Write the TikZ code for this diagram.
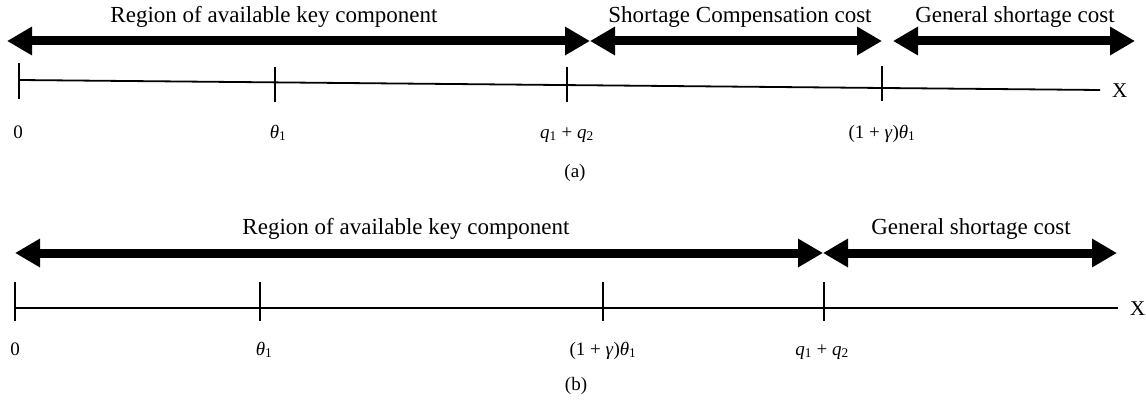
\documentclass[tikz,border=0pt]{standalone}
\usepackage{fontspec}
\setmainfont{Liberation Serif}
\usetikzlibrary{arrows.meta}

\begin{document}
\begin{tikzpicture}[x=1pt,y=-1pt,
  band/.style={line width=9pt,
    {Triangle[length=25pt,width=27pt]}-{Triangle[length=25pt,width=27pt]}},
  axisline/.style={line width=1.8pt},
  tickmark/.style={line width=1.8pt},
  title/.style={font=\fontsize{23}{26}\selectfont, inner sep=0pt, anchor=base},
  lbl/.style={font=\fontsize{19}{22}\selectfont, inner sep=0pt, anchor=base},
  axname/.style={font=\fontsize{21}{24}\selectfont, inner sep=0pt, anchor=base west},
]
\useasboundingbox (0,0) rectangle (1146,404);

% ---------- (a) ----------
\node[title] (ta1) at (274,23) {Region of available key component};
\node[title] (ta2) at (740,23) {Shortage Compensation cost};
\node[title] (ta3) at (1015,23) {General shortage cost};

\coordinate (a0) at (7,41);
\coordinate (a1) at (590,41);
\coordinate (a2) at (882,41);
\coordinate (a3) at (893,41);
\coordinate (a4) at (1135,41);
\draw[band] (a0) -- (a1);
\draw[band] (a1) -- (a2);
\draw[band] (a3) -- (a4);

\coordinate (xa0) at (19,80);
\coordinate (xa1) at (1100,90);
\draw[axisline] (xa0) -- (xa1);
\node[axname] (Xa) at (1112,97) {X};

\coordinate (ka0t) at (19,63);  \coordinate (ka0b) at (19,99);
\coordinate (ka1t) at (275,67); \coordinate (ka1b) at (275,102);
\coordinate (ka2t) at (567,67); \coordinate (ka2b) at (567,102);
\coordinate (ka3t) at (882,66); \coordinate (ka3b) at (882,101);
\draw[tickmark] (ka0t) -- (ka0b);
\draw[tickmark] (ka1t) -- (ka1b);
\draw[tickmark] (ka2t) -- (ka2b);
\draw[tickmark] (ka3t) -- (ka3b);

\node[lbl] (la0) at (18,138) {0};
\node[lbl] (la1) at (278,138) {\textit{θ}\textsubscript{1}};
\node[lbl] (la2) at (567,138) {\textit{q}\textsubscript{1} + \textit{q}\textsubscript{2}};
\node[lbl] (la3) at (882,138) {(1 + \textit{γ})\textit{θ}\textsubscript{1}};
\node[lbl] (capa) at (575,177) {(a)};

% ---------- (b) ----------
\node[title] (tb1) at (406,234) {Region of available key component};
\node[title] (tb2) at (971,234) {General shortage cost};

\coordinate (b0) at (15,253);
\coordinate (b1) at (823,253);
\coordinate (b2) at (1117,253);
\draw[band] (b0) -- (b1);
\draw[band] (b1) -- (b2);

\coordinate (xb0) at (15,308);
\coordinate (xb1) at (1118,308);
\draw[axisline] (xb0) -- (xb1);
\node[axname] (Xb) at (1130,315) {X};

\coordinate (kb0t) at (15,282);  \coordinate (kb0b) at (15,321);
\coordinate (kb1t) at (260,282); \coordinate (kb1b) at (260,321);
\coordinate (kb2t) at (603,282); \coordinate (kb2b) at (603,321);
\coordinate (kb3t) at (824,282); \coordinate (kb3b) at (824,321);
\draw[tickmark] (kb0t) -- (kb0b);
\draw[tickmark] (kb1t) -- (kb1b);
\draw[tickmark] (kb2t) -- (kb2b);
\draw[tickmark] (kb3t) -- (kb3b);

\node[lbl] (lb0) at (15,355) {0};
\node[lbl] (lb1) at (264,355) {\textit{θ}\textsubscript{1}};
\node[lbl] (lb2) at (603,355) {(1 + \textit{γ})\textit{θ}\textsubscript{1}};
\node[lbl] (lb3) at (822,355) {\textit{q}\textsubscript{1} + \textit{q}\textsubscript{2}};
\node[lbl] (capb) at (576,390) {(b)};
\end{tikzpicture}
\end{document}
